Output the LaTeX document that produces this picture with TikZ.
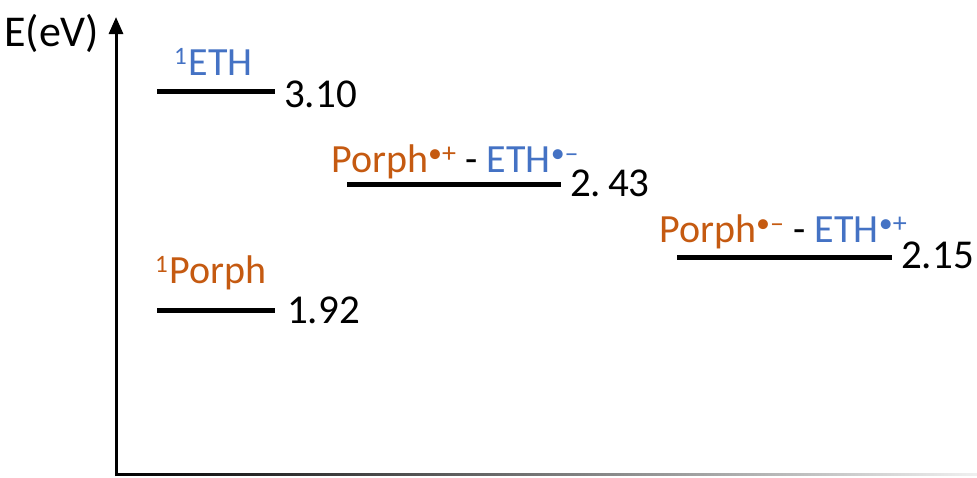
\documentclass[tikz,border=0pt]{standalone}
\usepackage{fontspec}
\setmainfont{Carlito}
\usetikzlibrary{arrows.meta}
\definecolor{orng}{HTML}{C55A11}
\definecolor{blu}{HTML}{4472C4}
\newcommand{\supone}{\raisebox{11pt}{\fontsize{25}{27}\selectfont 1}\hspace{2pt}}
\begin{document}
\begin{tikzpicture}[x=1pt,y=-1pt,
  lbl/.style={anchor=base west,inner sep=0pt,font=\fontsize{40}{44}\selectfont},
  val/.style={anchor=base west,inner sep=0pt,font=\fontsize{41}{44}\selectfont},
  level/.style={line width=5pt},
  axis/.style={line width=3pt}]
\useasboundingbox (0,0) rectangle (977,477);
% axes
\coordinate (o) at (116,476);
\coordinate (top) at (116,17);
\draw[axis,-{Triangle[width=14pt,length=17pt]}] (o) -- (top);
\shade[left color=black,right color=black!6] (115,473.5) rectangle (977,475.5);
\node[lbl,font=\fontsize{44}{46}\selectfont] (ylab) at (4,46) {E(eV)};
% levels
\coordinate (a1) at (157,91); \coordinate (a2) at (275,91);
\draw[level] (a1) -- (a2);
\node[val] (v1) at (284,107) {3.10};
\node[lbl,text=blu] (l1) at (174,75) {\supone ETH};

\coordinate (b1) at (347,184); \coordinate (b2) at (561,184);
\draw[level] (b1) -- (b2);
\node[val] (v2) at (570,196) {2.\,43};
\node[lbl] (l2) at (331,172) {\textcolor{orng}{Porph\textsuperscript{•+}} - \textcolor{blu}{ETH\textsuperscript{•–}}};

\coordinate (c1) at (677,257); \coordinate (c2) at (892,257);
\draw[level] (c1) -- (c2);
\node[val] (v3) at (901,268) {2.15};
\node[lbl] (l3) at (659,242) {\textcolor{orng}{Porph\textsuperscript{•–}} - \textcolor{blu}{ETH\textsuperscript{•+}}};

\coordinate (d1) at (157,310); \coordinate (d2) at (275,310);
\draw[level] (d1) -- (d2);
\node[val] (v4) at (287,323) {1.92};
\node[lbl,text=orng] (l4) at (155,283) {\supone Porph};
\end{tikzpicture}
\end{document}
